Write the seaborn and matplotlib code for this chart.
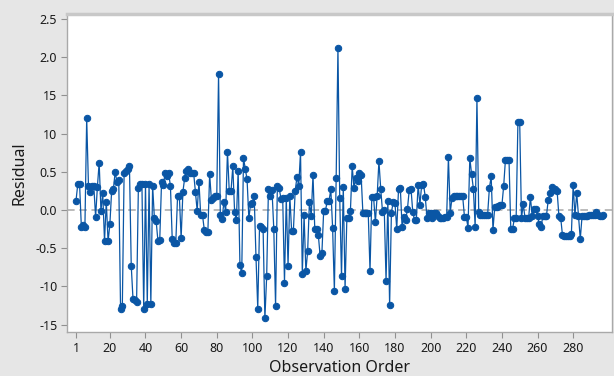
import numpy as np
import pandas as pd
import matplotlib
matplotlib.use("Agg")
import matplotlib.pyplot as plt
import seaborn as sns

seg01 = [0.12, 0.34, 0.34, -0.22, -0.20, -0.22, 1.20, 0.31, 0.24, 0.31, 0.31, -0.09, 0.30, 0.62, -0.01, 0.22, -0.41, 0.11, -0.41, -0.19]
seg02 = [0.25, 0.28, 0.50, 0.36, 0.39, -1.29, -1.26, 0.49, 0.51, 0.54, 0.57, -0.73, -1.17, -1.18, -1.20, 0.29, 0.34, 0.34, -1.29, 0.34]
seg03 = [-1.23, 0.34, -1.23, 0.32, -0.11, -0.15, -0.41, -0.39, 0.36, 0.33, 0.48, 0.45, 0.48, 0.31, -0.38, -0.43, -0.43, 0.18, 0.18, -0.37]
seg04 = [0.24, 0.42, 0.51, 0.54, 0.49, 0.49, 0.49, 0.24, -0.01, 0.37, -0.07, -0.07, -0.26, -0.29, -0.29, 0.47, 0.13, 0.16, 0.18, 0.18]
seg05 = [1.78, -0.07, -0.12, 0.11, -0.02, 0.76, 0.25, 0.25, 0.57, -0.02, -0.13, 0.51, -0.72, -0.83, 0.68, 0.54, 0.40, -0.11, 0.08, 0.09]
seg06 = [0.18, -0.61, -1.29, -0.21, -0.22, -0.25, -1.42, -0.87, 0.28, 0.18, 0.26, -0.25, -1.26, 0.32, 0.29, 0.15, 0.16, -0.95, 0.16, -0.73]
seg07 = [0.18, -0.27, -0.27, 0.25, 0.43, 0.32, 0.76, -0.84, -0.07, -0.80, -0.54, 0.11, -0.08, 0.46, -0.25, -0.25, -0.33, -0.60, -0.56, -0.01]
seg08 = [-0.01, 0.12, 0.12, 0.27, -0.23, -1.06, 0.42, 2.12, 0.16, -0.87, 0.30, -1.03, -0.11, -0.11, -0.01, 0.57, 0.29, 0.42, 0.38, 0.48]
seg09 = [0.46, -0.04, -0.04, -0.04, -0.04, -0.80, 0.17, 0.17, -0.16, 0.18, 0.64, 0.28, -0.02, 0.00, -0.93, 0.12, -1.25, -0.04, 0.11, 0.09]
seg10 = [-0.25, 0.27, 0.29, -0.22, -0.09, -0.13, 0.01, 0.26, 0.28, -0.03, -0.13, -0.13, 0.33, 0.07, 0.33, 0.34, 0.17, -0.11, -0.04, -0.04]
seg11 = [-0.11, -0.04, -0.04, -0.08, -0.11, -0.11, -0.11, -0.09, -0.09, 0.69, -0.04, 0.16, 0.18, 0.18, 0.18, 0.18, 0.18, 0.18, -0.09, -0.09]
seg12 = [-0.23, 0.68, 0.47, 0.28, -0.22, 1.46, -0.02, -0.06, -0.06, -0.06, -0.06, -0.06, 0.29, 0.44, -0.26, 0.04, 0.04, 0.05, 0.06, 0.06]
seg13 = [0.31, 0.66, 0.66, 0.66, -0.25, -0.25, -0.11, -0.11, 1.15, 1.15, -0.11, 0.08, -0.11, -0.11, -0.11, 0.17, -0.08, 0.01, 0.01, -0.08]
seg14 = [-0.19, -0.22, -0.08, -0.08, -0.08, 0.13, 0.22, 0.30, 0.26, 0.28, 0.25, -0.08, -0.10, -0.33, -0.34, -0.34, -0.34, -0.34, -0.32, 0.33]
seg15 = [-0.07, 0.22, -0.08, -0.38, -0.08, -0.08, -0.08, -0.08, -0.07, -0.07, -0.07, -0.06, -0.03, -0.07, -0.08, -0.08, -0.06]

residuals = (seg01 + seg02 + seg03 + seg04 + seg05 + seg06 + seg07 + seg08 +
             seg09 + seg10 + seg11 + seg12 + seg13 + seg14 + seg15)
observation = list(range(1, len(residuals) + 1))

x_ticks = [1, 20, 40, 60, 80, 100, 120, 140, 160, 180, 200, 220, 240, 260, 280]
y_ticks = [2.5, 2.0, 1.5, 1.0, 0.5, 0.0, -0.5, -1.0, -1.5]
y_tick_labels = ["2.5", "2.0", "15", "10", "0.5", "0.0", "-0.5", "-10", "-15"]

df = pd.DataFrame({"Observation Order": observation, "Residual": residuals})

sns.set_style("white")
plt.rcParams["font.family"] = ["Noto Sans", "DejaVu Sans"]

fig = plt.figure(figsize=(6.14, 3.76), dpi=100)
fig.patch.set_facecolor("#E6E6E6")
ax = fig.add_axes([67 / 614, 1 - 332 / 376, (612 - 67) / 614, (332 - 14) / 376])
ax.set_facecolor("white")

blue = "#0A56A5"
ax.axhline(0, color="#A8A8A8", lw=1.1, ls=(0, (5, 3)), zorder=1)
sns.lineplot(data=df, x="Observation Order", y="Residual", ax=ax, color=blue,
             lw=0.9, marker="o", markersize=4.6, markeredgecolor=blue,
             markerfacecolor=blue, zorder=3)

ax.set_xlim(-4.05, 301.8)
ax.set_ylim(-1.597, 2.565)
ax.set_xticks(x_ticks)
ax.set_yticks(y_ticks)
ax.set_yticklabels(y_tick_labels)

for s in ax.spines.values():
    s.set_color("#A9A9A9")
    s.set_linewidth(1.0)
ax.spines["top"].set_color("#C8C8C8")
ax.spines["top"].set_linewidth(2.5)

ax.tick_params(axis="both", which="major", direction="out", length=4, width=0.8,
               color="#909090", labelsize=9, labelcolor="#1A1A1A", pad=3,
               bottom=True, left=True)
ax.set_xlabel("Observation Order", fontsize=11.5, color="#1A1A1A", labelpad=4)
ax.set_ylabel("Residual", fontsize=11.5, color="#1A1A1A", labelpad=6)

fig.savefig("out.png", dpi=100, facecolor=fig.get_facecolor())
